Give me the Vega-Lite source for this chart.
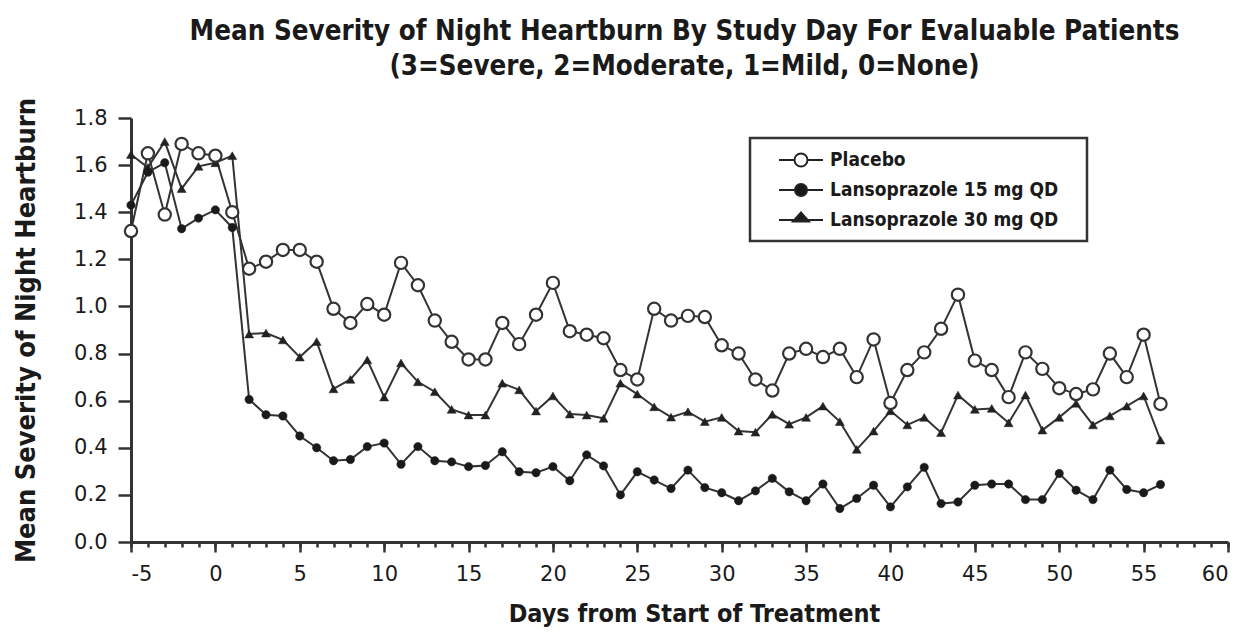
{
  "$schema": "https://vega.github.io/schema/vega-lite/v6.json",
  "autosize": {"type": "none"},
  "padding": {"left": 131, "top": 118, "right": 18, "bottom": 94},
  "width": 1097,
  "height": 424,
  "background": "white",
  "title": {
    "text": ["Mean Severity of Night Heartburn By Study Day For Evaluable Patients", "(3=Severe, 2=Moderate, 1=Mild, 0=None)"],
    "font": "DejaVu Sans Condensed",
    "fontWeight": "bold",
    "fontSize": 27.5,
    "lineHeight": 35,
    "color": "#1a1a1a",
    "anchor": "middle",
    "dx": 5,
    "offset": 17
  },
  "data": {"values": [
    {"day":-5,"series":"Placebo","value":1.32},{"day":-4,"series":"Placebo","value":1.65},{"day":-3,"series":"Placebo","value":1.39},{"day":-2,"series":"Placebo","value":1.69},{"day":-1,"series":"Placebo","value":1.65},{"day":0,"series":"Placebo","value":1.64},{"day":1,"series":"Placebo","value":1.40},{"day":2,"series":"Placebo","value":1.16},{"day":3,"series":"Placebo","value":1.19},{"day":4,"series":"Placebo","value":1.24},{"day":5,"series":"Placebo","value":1.24},{"day":6,"series":"Placebo","value":1.19},{"day":7,"series":"Placebo","value":0.99},{"day":8,"series":"Placebo","value":0.93},{"day":9,"series":"Placebo","value":1.01},{"day":10,"series":"Placebo","value":0.965},{"day":11,"series":"Placebo","value":1.185},{"day":12,"series":"Placebo","value":1.09},{"day":13,"series":"Placebo","value":0.94},{"day":14,"series":"Placebo","value":0.85},{"day":15,"series":"Placebo","value":0.775},{"day":16,"series":"Placebo","value":0.775},{"day":17,"series":"Placebo","value":0.93},{"day":18,"series":"Placebo","value":0.84},{"day":19,"series":"Placebo","value":0.965},{"day":20,"series":"Placebo","value":1.10},{"day":21,"series":"Placebo","value":0.895},{"day":22,"series":"Placebo","value":0.88},{"day":23,"series":"Placebo","value":0.865},{"day":24,"series":"Placebo","value":0.73},{"day":25,"series":"Placebo","value":0.69},{"day":26,"series":"Placebo","value":0.99},{"day":27,"series":"Placebo","value":0.94},{"day":28,"series":"Placebo","value":0.96},{"day":29,"series":"Placebo","value":0.955},{"day":30,"series":"Placebo","value":0.835},{"day":31,"series":"Placebo","value":0.80},{"day":32,"series":"Placebo","value":0.69},{"day":33,"series":"Placebo","value":0.643},{"day":34,"series":"Placebo","value":0.80},{"day":35,"series":"Placebo","value":0.82},{"day":36,"series":"Placebo","value":0.785},{"day":37,"series":"Placebo","value":0.82},{"day":38,"series":"Placebo","value":0.70},{"day":39,"series":"Placebo","value":0.86},{"day":40,"series":"Placebo","value":0.59},{"day":41,"series":"Placebo","value":0.73},{"day":42,"series":"Placebo","value":0.805},{"day":43,"series":"Placebo","value":0.905},{"day":44,"series":"Placebo","value":1.05},{"day":45,"series":"Placebo","value":0.77},{"day":46,"series":"Placebo","value":0.73},{"day":47,"series":"Placebo","value":0.615},{"day":48,"series":"Placebo","value":0.805},{"day":49,"series":"Placebo","value":0.735},{"day":50,"series":"Placebo","value":0.653},{"day":51,"series":"Placebo","value":0.628},{"day":52,"series":"Placebo","value":0.648},{"day":53,"series":"Placebo","value":0.80},{"day":54,"series":"Placebo","value":0.70},{"day":55,"series":"Placebo","value":0.88},{"day":56,"series":"Placebo","value":0.586},
    {"day":-5,"series":"Lansoprazole 15 mg QD","value":1.43},{"day":-4,"series":"Lansoprazole 15 mg QD","value":1.57},{"day":-3,"series":"Lansoprazole 15 mg QD","value":1.61},{"day":-2,"series":"Lansoprazole 15 mg QD","value":1.33},{"day":-1,"series":"Lansoprazole 15 mg QD","value":1.375},{"day":0,"series":"Lansoprazole 15 mg QD","value":1.41},{"day":1,"series":"Lansoprazole 15 mg QD","value":1.335},{"day":2,"series":"Lansoprazole 15 mg QD","value":0.605},{"day":3,"series":"Lansoprazole 15 mg QD","value":0.54},{"day":4,"series":"Lansoprazole 15 mg QD","value":0.535},{"day":5,"series":"Lansoprazole 15 mg QD","value":0.45},{"day":6,"series":"Lansoprazole 15 mg QD","value":0.40},{"day":7,"series":"Lansoprazole 15 mg QD","value":0.345},{"day":8,"series":"Lansoprazole 15 mg QD","value":0.35},{"day":9,"series":"Lansoprazole 15 mg QD","value":0.405},{"day":10,"series":"Lansoprazole 15 mg QD","value":0.42},{"day":11,"series":"Lansoprazole 15 mg QD","value":0.33},{"day":12,"series":"Lansoprazole 15 mg QD","value":0.405},{"day":13,"series":"Lansoprazole 15 mg QD","value":0.345},{"day":14,"series":"Lansoprazole 15 mg QD","value":0.34},{"day":15,"series":"Lansoprazole 15 mg QD","value":0.32},{"day":16,"series":"Lansoprazole 15 mg QD","value":0.325},{"day":17,"series":"Lansoprazole 15 mg QD","value":0.383},{"day":18,"series":"Lansoprazole 15 mg QD","value":0.298},{"day":19,"series":"Lansoprazole 15 mg QD","value":0.294},{"day":20,"series":"Lansoprazole 15 mg QD","value":0.32},{"day":21,"series":"Lansoprazole 15 mg QD","value":0.26},{"day":22,"series":"Lansoprazole 15 mg QD","value":0.37},{"day":23,"series":"Lansoprazole 15 mg QD","value":0.323},{"day":24,"series":"Lansoprazole 15 mg QD","value":0.20},{"day":25,"series":"Lansoprazole 15 mg QD","value":0.298},{"day":26,"series":"Lansoprazole 15 mg QD","value":0.263},{"day":27,"series":"Lansoprazole 15 mg QD","value":0.227},{"day":28,"series":"Lansoprazole 15 mg QD","value":0.305},{"day":29,"series":"Lansoprazole 15 mg QD","value":0.231},{"day":30,"series":"Lansoprazole 15 mg QD","value":0.209},{"day":31,"series":"Lansoprazole 15 mg QD","value":0.175},{"day":32,"series":"Lansoprazole 15 mg QD","value":0.217},{"day":33,"series":"Lansoprazole 15 mg QD","value":0.27},{"day":34,"series":"Lansoprazole 15 mg QD","value":0.213},{"day":35,"series":"Lansoprazole 15 mg QD","value":0.175},{"day":36,"series":"Lansoprazole 15 mg QD","value":0.246},{"day":37,"series":"Lansoprazole 15 mg QD","value":0.142},{"day":38,"series":"Lansoprazole 15 mg QD","value":0.185},{"day":39,"series":"Lansoprazole 15 mg QD","value":0.241},{"day":40,"series":"Lansoprazole 15 mg QD","value":0.149},{"day":41,"series":"Lansoprazole 15 mg QD","value":0.234},{"day":42,"series":"Lansoprazole 15 mg QD","value":0.317},{"day":43,"series":"Lansoprazole 15 mg QD","value":0.163},{"day":44,"series":"Lansoprazole 15 mg QD","value":0.17},{"day":45,"series":"Lansoprazole 15 mg QD","value":0.241},{"day":46,"series":"Lansoprazole 15 mg QD","value":0.246},{"day":47,"series":"Lansoprazole 15 mg QD","value":0.246},{"day":48,"series":"Lansoprazole 15 mg QD","value":0.18},{"day":49,"series":"Lansoprazole 15 mg QD","value":0.18},{"day":50,"series":"Lansoprazole 15 mg QD","value":0.291},{"day":51,"series":"Lansoprazole 15 mg QD","value":0.22},{"day":52,"series":"Lansoprazole 15 mg QD","value":0.18},{"day":53,"series":"Lansoprazole 15 mg QD","value":0.305},{"day":54,"series":"Lansoprazole 15 mg QD","value":0.223},{"day":55,"series":"Lansoprazole 15 mg QD","value":0.209},{"day":56,"series":"Lansoprazole 15 mg QD","value":0.244},
    {"day":-5,"series":"Lansoprazole 30 mg QD","value":1.645},{"day":-4,"series":"Lansoprazole 30 mg QD","value":1.59},{"day":-3,"series":"Lansoprazole 30 mg QD","value":1.70},{"day":-2,"series":"Lansoprazole 30 mg QD","value":1.50},{"day":-1,"series":"Lansoprazole 30 mg QD","value":1.595},{"day":0,"series":"Lansoprazole 30 mg QD","value":1.61},{"day":1,"series":"Lansoprazole 30 mg QD","value":1.64},{"day":2,"series":"Lansoprazole 30 mg QD","value":0.883},{"day":3,"series":"Lansoprazole 30 mg QD","value":0.887},{"day":4,"series":"Lansoprazole 30 mg QD","value":0.858},{"day":5,"series":"Lansoprazole 30 mg QD","value":0.785},{"day":6,"series":"Lansoprazole 30 mg QD","value":0.851},{"day":7,"series":"Lansoprazole 30 mg QD","value":0.65},{"day":8,"series":"Lansoprazole 30 mg QD","value":0.69},{"day":9,"series":"Lansoprazole 30 mg QD","value":0.773},{"day":10,"series":"Lansoprazole 30 mg QD","value":0.615},{"day":11,"series":"Lansoprazole 30 mg QD","value":0.76},{"day":12,"series":"Lansoprazole 30 mg QD","value":0.68},{"day":13,"series":"Lansoprazole 30 mg QD","value":0.638},{"day":14,"series":"Lansoprazole 30 mg QD","value":0.563},{"day":15,"series":"Lansoprazole 30 mg QD","value":0.539},{"day":16,"series":"Lansoprazole 30 mg QD","value":0.539},{"day":17,"series":"Lansoprazole 30 mg QD","value":0.674},{"day":18,"series":"Lansoprazole 30 mg QD","value":0.646},{"day":19,"series":"Lansoprazole 30 mg QD","value":0.556},{"day":20,"series":"Lansoprazole 30 mg QD","value":0.62},{"day":21,"series":"Lansoprazole 30 mg QD","value":0.543},{"day":22,"series":"Lansoprazole 30 mg QD","value":0.539},{"day":23,"series":"Lansoprazole 30 mg QD","value":0.525},{"day":24,"series":"Lansoprazole 30 mg QD","value":0.674},{"day":25,"series":"Lansoprazole 30 mg QD","value":0.628},{"day":26,"series":"Lansoprazole 30 mg QD","value":0.574},{"day":27,"series":"Lansoprazole 30 mg QD","value":0.53},{"day":28,"series":"Lansoprazole 30 mg QD","value":0.553},{"day":29,"series":"Lansoprazole 30 mg QD","value":0.511},{"day":30,"series":"Lansoprazole 30 mg QD","value":0.529},{"day":31,"series":"Lansoprazole 30 mg QD","value":0.471},{"day":32,"series":"Lansoprazole 30 mg QD","value":0.466},{"day":33,"series":"Lansoprazole 30 mg QD","value":0.542},{"day":34,"series":"Lansoprazole 30 mg QD","value":0.50},{"day":35,"series":"Lansoprazole 30 mg QD","value":0.529},{"day":36,"series":"Lansoprazole 30 mg QD","value":0.577},{"day":37,"series":"Lansoprazole 30 mg QD","value":0.511},{"day":38,"series":"Lansoprazole 30 mg QD","value":0.393},{"day":39,"series":"Lansoprazole 30 mg QD","value":0.471},{"day":40,"series":"Lansoprazole 30 mg QD","value":0.557},{"day":41,"series":"Lansoprazole 30 mg QD","value":0.497},{"day":42,"series":"Lansoprazole 30 mg QD","value":0.529},{"day":43,"series":"Lansoprazole 30 mg QD","value":0.464},{"day":44,"series":"Lansoprazole 30 mg QD","value":0.624},{"day":45,"series":"Lansoprazole 30 mg QD","value":0.563},{"day":46,"series":"Lansoprazole 30 mg QD","value":0.567},{"day":47,"series":"Lansoprazole 30 mg QD","value":0.506},{"day":48,"series":"Lansoprazole 30 mg QD","value":0.624},{"day":49,"series":"Lansoprazole 30 mg QD","value":0.475},{"day":50,"series":"Lansoprazole 30 mg QD","value":0.529},{"day":51,"series":"Lansoprazole 30 mg QD","value":0.589},{"day":52,"series":"Lansoprazole 30 mg QD","value":0.497},{"day":53,"series":"Lansoprazole 30 mg QD","value":0.535},{"day":54,"series":"Lansoprazole 30 mg QD","value":0.577},{"day":55,"series":"Lansoprazole 30 mg QD","value":0.62},{"day":56,"series":"Lansoprazole 30 mg QD","value":0.433}
  ]},
  "resolve": {"axis": {"x": "independent"}},
  "layer": [
    {
      "mark": {"type": "line", "stroke": "#333", "strokeWidth": 2},
      "encoding": {
        "x": {"field": "day", "type": "quantitative", "scale": {"domain": [-5, 60], "nice": false, "zero": false},
          "axis": {"orient": "bottom", "values": [-5,0,5,10,15,20,25,30,35,40,45,50,55,60], "labelExpr": "datum.value + ''", "tickSize": 10, "title": "Days from Start of Treatment", "titlePadding": 17, "titleX": 563, "titleFontSize": 25}},
        "y": {"field": "value", "type": "quantitative", "scale": {"domain": [0, 1.8], "nice": false},
          "axis": {"values": [0,0.2,0.4,0.6,0.8,1.0,1.2,1.4,1.6,1.8], "format": ".1f", "tickSize": 13, "title": "Mean Severity of Night Heartburn", "titlePadding": 33, "titleFontSize": 27}},
        "detail": {"field": "series"}
      }
    },
    {
      "transform": [{"filter": "datum.series === 'Lansoprazole 30 mg QD'"}],
      "mark": {"type": "point", "shape": "triangle-up", "filled": true, "fill": "#222", "stroke": "#222", "strokeWidth": 0.5, "size": 80, "opacity": 1},
      "encoding": {
        "x": {"field": "day", "type": "quantitative",
          "axis": {"orient": "bottom", "values": [-5,-4,-3,-2,-1,0,1,2,3,4,5,6,7,8,9,10,11,12,13,14,15,16,17,18,19,20,21,22,23,24,25,26,27,28,29,30,31,32,33,34,35,36,37,38,39,40,41,42,43,44,45,46,47,48,49,50,51,52,53,54,55,56,57,58,59,60], "tickSize": 5, "labels": false, "domain": false, "title": null}},
        "y": {"field": "value", "type": "quantitative"}
      }
    },
    {
      "transform": [{"filter": "datum.series === 'Lansoprazole 15 mg QD'"}],
      "mark": {"type": "point", "shape": "circle", "filled": true, "fill": "#1a1a1a", "stroke": "#1a1a1a", "strokeWidth": 0.5, "size": 70, "opacity": 1},
      "encoding": {
        "x": {"field": "day", "type": "quantitative", "axis": null},
        "y": {"field": "value", "type": "quantitative"}
      }
    },
    {
      "transform": [{"filter": "datum.series === 'Placebo'"}],
      "mark": {"type": "point", "shape": "circle", "filled": false, "fill": "white", "fillOpacity": 1, "stroke": "#333", "strokeWidth": 2.2, "size": 150, "opacity": 1},
      "encoding": {
        "x": {"field": "day", "type": "quantitative", "axis": null},
        "y": {"field": "value", "type": "quantitative"}
      }
    },
    {
      "mark": {"type": "point", "filled": true, "strokeWidth": 2, "opacity": 0},
      "encoding": {
        "x": {"field": "day", "type": "quantitative", "axis": null},
        "y": {"field": "value", "type": "quantitative"},
        "shape": {"field": "series", "type": "nominal",
          "scale": {"domain": ["Placebo", "Lansoprazole 15 mg QD", "Lansoprazole 30 mg QD"],
            "range": ["M-2.2,0L-0.65,0M0.65,0L2.2,0M-0.65,0A0.65,0.65,0,1,1,0.65,0A0.65,0.65,0,1,1,-0.65,0Z", "M-2.2,0L-0.6,0M0.6,0L2.2,0M-0.6,0A0.6,0.6,0,1,1,0.6,0A0.6,0.6,0,1,1,-0.6,0Z", "M-2.2,0L2.2,0M-0.8,0.15L0,-0.75L0.8,0.15Z"]},
          "legend": {"title": "\u00a0", "titleOrient": "right", "titlePadding": 18, "titleFontSize": 10, "orient": "none", "legendX": 619, "legendY": 20, "symbolOpacity": 1, "symbolSize": 400, "symbolStrokeWidth": 2, "symbolOffset": 29, "labelOffset": 18, "rowPadding": 8, "padding": 11, "strokeColor": "#333", "labelFont": "DejaVu Sans Condensed", "labelFontWeight": "bold", "labelFontSize": 19, "labelColor": "#1a1a1a", "labelLimit": 400}},
        "fill": {"field": "series", "type": "nominal",
          "scale": {"domain": ["Placebo", "Lansoprazole 15 mg QD", "Lansoprazole 30 mg QD"], "range": ["white", "#1a1a1a", "#1a1a1a"]}},
        "stroke": {"field": "series", "type": "nominal",
          "scale": {"domain": ["Placebo", "Lansoprazole 15 mg QD", "Lansoprazole 30 mg QD"], "range": ["#222", "#222", "#222"]}}
      }
    }
  ],
  "config": {
    "view": {"stroke": null},
    "legend": {"strokeWidth": 2.5},
    "axis": {
      "grid": false,
      "domainColor": "#333",
      "domainWidth": 3,
      "tickColor": "#333",
      "tickWidth": 2.5,
      "labelFont": "DejaVu Sans",
      "labelFontSize": 21,
      "labelColor": "#1a1a1a",
      "labelPadding": 11,
      "titleFont": "DejaVu Sans Condensed",
      "titleFontWeight": "bold",
      "titleColor": "#1a1a1a"
    }
  }
}
